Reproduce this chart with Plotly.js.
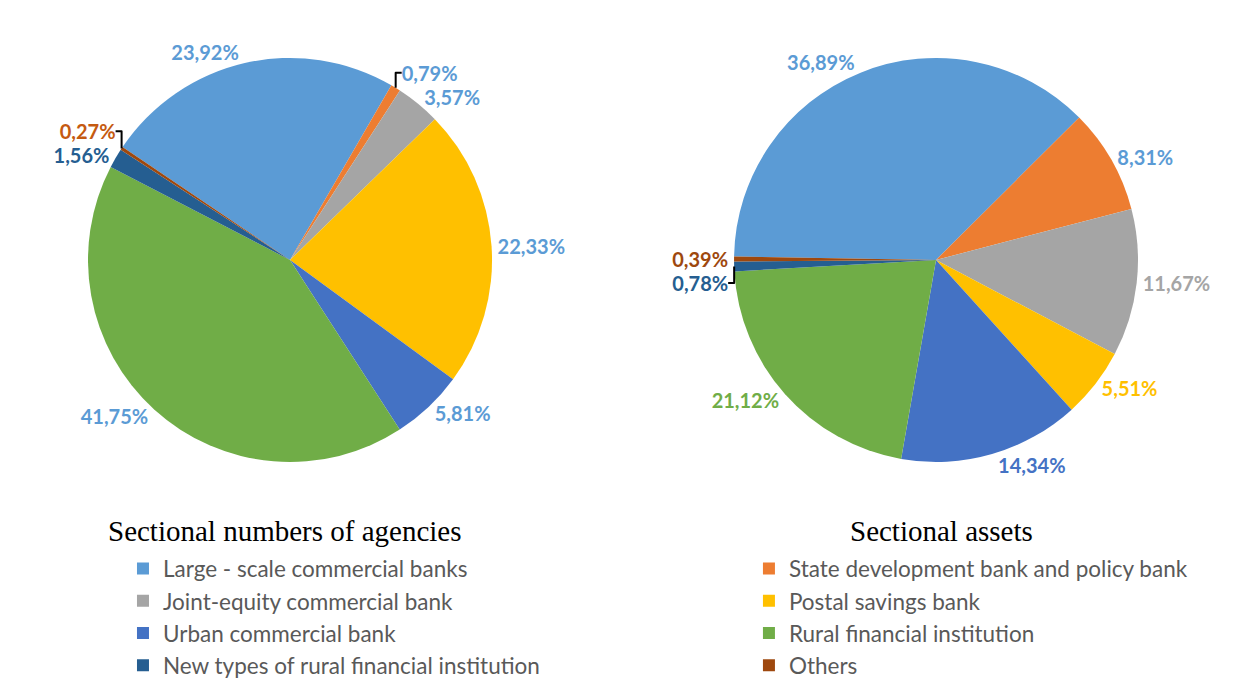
<!DOCTYPE html>
<html>
<head>
<meta charset="utf-8">
<script src="https://cdn.plot.ly/plotly-3.0.1.min.js"></script>
<style>html,body{margin:0;padding:0;background:#fff;}#chart{width:1241px;height:678px;}</style>
</head>
<body>
<div id="chart"></div>
<script>
var categories = [
  "Large - scale commercial banks",
  "State development bank and policy bank",
  "Joint-equity commercial bank",
  "Postal savings bank",
  "Urban commercial bank",
  "Rural financial institution",
  "New types of rural financial institution",
  "Others"
];
var agencies = [23.92, 0.79, 3.57, 22.33, 5.81, 41.75, 1.56, 0.27];
var assets = [36.89, 8.31, 11.67, 5.51, 14.34, 21.12, 0.78, 0.39];
var sliceColors = ["#5B9BD5", "#ED7D31", "#A5A5A5", "#FFC000", "#4472C4", "#70AD47", "#255E91", "#9E480E"];
var agencyLabelColors = ["#5B9BD5", "#5B9BD5", "#5B9BD5", "#5B9BD5", "#5B9BD5", "#5B9BD5", "#255E91", "#C55A11"];
var assetLabelColors = ["#5B9BD5", "#5B9BD5", "#A5A5A5", "#FFC000", "#4472C4", "#70AD47", "#255E91", "#9E480E"];
var titles = ["Sectional numbers of agencies", "Sectional assets"];

function fmt(v){ return v.toFixed(2).replace(".", ",") + "%"; }

var common = {
  type: "pie",
  labels: categories,
  sort: false,
  direction: "clockwise",
  textposition: "outside",
  textinfo: "text",
  hoverinfo: "label+text",
  marker: {colors: sliceColors, line: {width: 0}},
  showlegend: false
};

var pieY = [0.3186, 0.9145];
var t1 = Object.assign({}, common, {
  values: agencies,
  text: agencies.map(fmt),
  rotation: -56,
  domain: {x: [0.0709, 0.3965], y: pieY},
  outsidetextfont: {family: "Lato, 'Open Sans', sans-serif", size: 20, color: agencyLabelColors, weight: "bold"}
});
var t2 = Object.assign({}, common, {
  values: assets,
  text: assets.map(fmt),
  rotation: -89,
  domain: {x: [0.5915, 0.917], y: pieY},
  outsidetextfont: {family: "Lato, 'Open Sans', sans-serif", size: 20, color: assetLabelColors, weight: "bold"}
});

// legend-only entries (two columns: even indices left, odd indices right)
var legendTraces = categories.map(function(name, i){
  return {
    type: "scatter", mode: "markers", x: [null], y: [null],
    name: name, legend: (i % 2 === 0) ? "legend" : "legend2",
    marker: {symbol: "square", size: 12, color: sliceColors[i], line: {width: 0}},
    hoverinfo: "skip"
  };
});

var legendFont = {family: "Lato, 'Open Sans', sans-serif", size: 22.5, color: "#595959"};
var layout = {
  width: 1241, height: 678,
  margin: {l: 0, r: 0, t: 0, b: 0, autoexpand: false},
  paper_bgcolor: "#fff",
  plot_bgcolor: "rgba(0,0,0,0)",
  xaxis: {visible: false},
  yaxis: {visible: false},
  legend: {
    orientation: "v", x: 0.0991, xanchor: "left", y: 0.1925, yanchor: "top",
    traceorder: "normal", font: legendFont, bgcolor: "rgba(0,0,0,0)"
  },
  legend2: {
    orientation: "v", x: 0.6035, xanchor: "left", y: 0.1925, yanchor: "top",
    traceorder: "normal", font: legendFont, bgcolor: "rgba(0,0,0,0)"
  },
  annotations: [
    {text: titles[0], xref: "paper", yref: "paper", x: 0.2297, y: 0.2168, xanchor: "center", yanchor: "middle", showarrow: false,
     font: {family: "'Liberation Serif', 'Times New Roman', serif", size: 29, color: "#000"}},
    {text: titles[1], xref: "paper", yref: "paper", x: 0.7583, y: 0.2168, xanchor: "center", yanchor: "middle", showarrow: false,
     font: {family: "'Liberation Serif', 'Times New Roman', serif", size: 29, color: "#000"}}
  ]
};

Plotly.newPlot("chart", [t1, t2].concat(legendTraces), layout, {displayModeBar: false, staticPlot: true});
</script>
</body>
</html>
